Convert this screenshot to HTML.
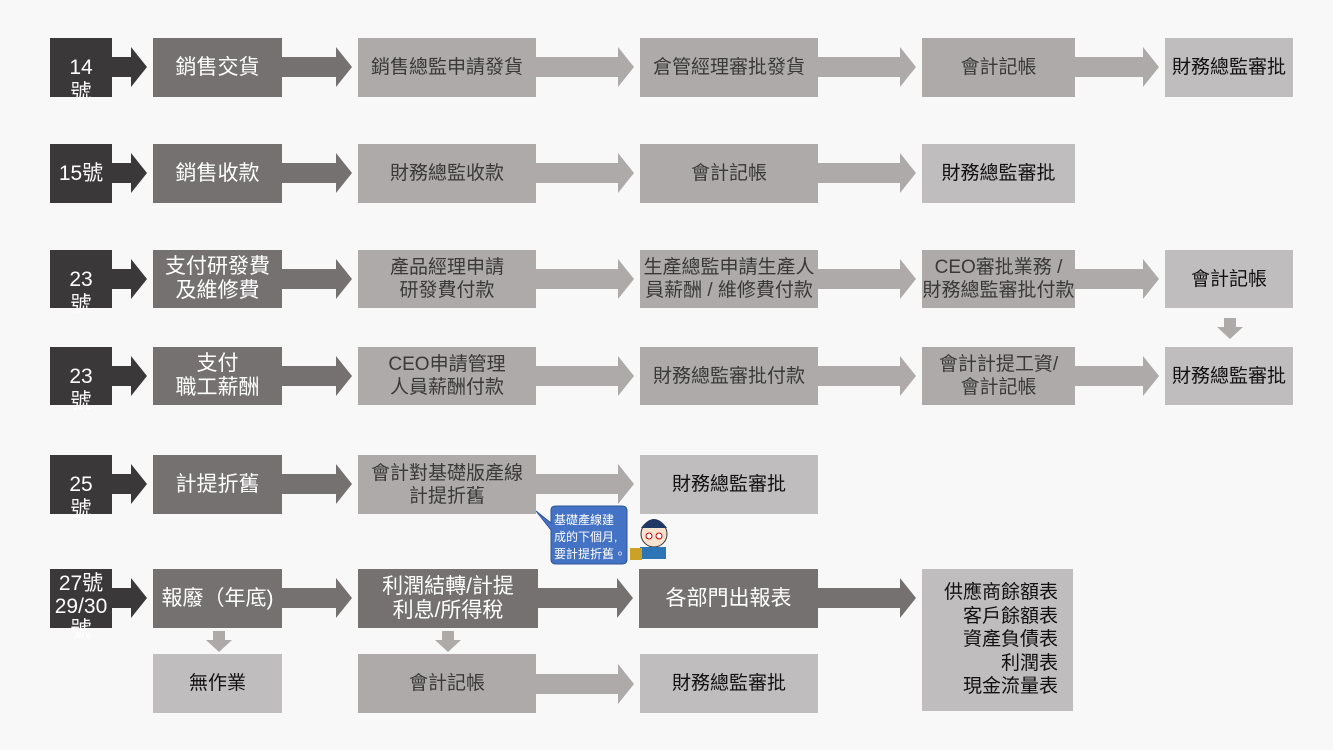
<!DOCTYPE html>
<html><head><meta charset="utf-8"><style>
body{margin:0;width:1333px;height:750px;background:#f8f8f8;position:relative;overflow:hidden;font-family:"Liberation Sans","Noto Sans CJK TC",sans-serif}
.b{position:absolute;display:flex;align-items:center;justify-content:center;text-align:center;font-size:19px;line-height:23px;box-sizing:border-box}
.d{background:#3a3838;color:#fff;font-size:21px;line-height:25px;align-items:flex-start;padding-top:17px;overflow:visible}
.m{background:#767171;color:#fff;font-size:21px}
.l{background:#aeaaaa;color:#3a3838}
.k{background:#bfbdbd;color:#111}
svg{position:absolute;left:0;top:0}
</style></head><body>
<svg width="1333" height="750">
<g fill="#3a3838">
<polygon points="112,57 131,57 131,47 147,67 131,87 131,77 112,77"/>
<polygon points="112,163 131,163 131,153 147,173 131,193 131,183 112,183"/>
<polygon points="112,269 131,269 131,259 147,279 131,299 131,289 112,289"/>
<polygon points="112,366 131,366 131,356 147,376 131,396 131,386 112,386"/>
<polygon points="112,474 131,474 131,464 147,484 131,504 131,494 112,494"/>
<polygon points="112,588 131,588 131,578 147,598 131,618 131,608 112,608"/>
</g>
<g fill="#767171">
<polygon points="282,57 336,57 336,47 352,67 336,87 336,77 282,77"/>
<polygon points="282,163 336,163 336,153 352,173 336,193 336,183 282,183"/>
<polygon points="282,269 336,269 336,259 352,279 336,299 336,289 282,289"/>
<polygon points="282,366 336,366 336,356 352,376 336,396 336,386 282,386"/>
<polygon points="282,474 336,474 336,464 352,484 336,504 336,494 282,494"/>
<polygon points="282,588 336,588 336,578 352,598 336,618 336,608 282,608"/>
<polygon points="538,588 617,588 617,578 633,598 617,618 617,608 538,608"/>
<polygon points="818,588 900,588 900,578 916,598 900,618 900,608 818,608"/>
</g>
<g fill="#aeaaaa">
<polygon points="536,57 618,57 618,47 634,67 618,87 618,77 536,77"/>
<polygon points="818,57 900,57 900,47 916,67 900,87 900,77 818,77"/>
<polygon points="1075,57 1143,57 1143,47 1159,67 1143,87 1143,77 1075,77"/>
<polygon points="536,163 618,163 618,153 634,173 618,193 618,183 536,183"/>
<polygon points="818,163 900,163 900,153 916,173 900,193 900,183 818,183"/>
<polygon points="536,269 618,269 618,259 634,279 618,299 618,289 536,289"/>
<polygon points="818,269 900,269 900,259 916,279 900,299 900,289 818,289"/>
<polygon points="1075,269 1143,269 1143,259 1159,279 1143,299 1143,289 1075,289"/>
<polygon points="536,366 618,366 618,356 634,376 618,396 618,386 536,386"/>
<polygon points="818,366 900,366 900,356 916,376 900,396 900,386 818,386"/>
<polygon points="1075,366 1143,366 1143,356 1159,376 1143,396 1143,386 1075,386"/>
<polygon points="536,474 618,474 618,464 634,484 618,504 618,494 536,494"/>
<polygon points="536,674 618,674 618,664 634,684 618,704 618,694 536,694"/>
<polygon points="213,631 225,631 225,640 232,640 219,652 206,640 213,640"/>
<polygon points="442,631 454,631 454,640 461,640 448,652 435,640 442,640"/>
<polygon points="1224,318 1236,318 1236,327 1243,327 1230,339 1217,327 1224,327"/>
</g>
<path d="M536,511 L551,523 L551,510 Q551,506 556,506 L622,506 Q627,506 627,511 L627,559 Q627,564 622,564 L556,564 Q551,564 551,559 L551,530 Z" fill="#4472c4" stroke="#2f5597"/>
<text x="554" y="524" font-size="12" fill="#fff" font-family="Liberation Sans,Noto Sans CJK TC,sans-serif">基礎產線建</text>
<text x="554" y="541" font-size="12" fill="#fff" font-family="Liberation Sans,Noto Sans CJK TC,sans-serif">成的下個月,</text>
<text x="554" y="558" font-size="12" fill="#fff" font-family="Liberation Sans,Noto Sans CJK TC,sans-serif">要計提折舊。</text>
<circle cx="654" cy="534" r="13" fill="#fbe3cf" stroke="#333"/>
<path d="M641,528 Q654,510 667,528 Z" fill="#1f3864"/>
<circle cx="649" cy="536" r="3" fill="#fff" stroke="#c00"/><circle cx="659" cy="536" r="3" fill="#fff" stroke="#c00"/>
<rect x="640" y="547" width="26" height="12" fill="#2e75b6"/>
<rect x="630" y="548" width="12" height="12" fill="#c9a227"/>
</svg>

<div class="b d" style="left:50px;top:38px;width:62px;height:59px">14<br>號</div>
<div class="b m" style="left:153px;top:38px;width:129px;height:59px">銷售交貨</div>
<div class="b l" style="left:358px;top:38px;width:178px;height:59px">銷售總監申請發貨</div>
<div class="b l" style="left:640px;top:38px;width:178px;height:59px">倉管經理審批發貨</div>
<div class="b l" style="left:922px;top:38px;width:153px;height:59px">會計記帳</div>
<div class="b k" style="left:1165px;top:38px;width:128px;height:59px">財務總監審批</div>

<div class="b d" style="left:50px;top:144px;width:62px;height:59px;align-items:center;padding-top:0">15號</div>
<div class="b m" style="left:153px;top:144px;width:129px;height:59px">銷售收款</div>
<div class="b l" style="left:358px;top:144px;width:178px;height:59px">財務總監收款</div>
<div class="b l" style="left:640px;top:144px;width:178px;height:59px">會計記帳</div>
<div class="b k" style="left:922px;top:144px;width:153px;height:59px">財務總監審批</div>

<div class="b d" style="left:50px;top:250px;width:62px;height:58px">23<br>號</div>
<div class="b m" style="left:153px;top:250px;width:129px;height:58px;line-height:24px">支付研發費<br>及維修費</div>
<div class="b l" style="left:358px;top:250px;width:178px;height:58px">產品經理申請<br>研發費付款</div>
<div class="b l" style="left:640px;top:250px;width:178px;height:58px">生產總監申請生產人<br>員薪酬 / 維修費付款</div>
<div class="b l" style="left:922px;top:250px;width:153px;height:58px">CEO審批業務 /<br>財務總監審批付款</div>
<div class="b k" style="left:1165px;top:250px;width:128px;height:58px">會計記帳</div>

<div class="b d" style="left:50px;top:347px;width:62px;height:58px">23<br>號</div>
<div class="b m" style="left:153px;top:347px;width:129px;height:58px;line-height:24px">支付<br>職工薪酬</div>
<div class="b l" style="left:358px;top:347px;width:178px;height:58px">CEO申請管理<br>人員薪酬付款</div>
<div class="b l" style="left:640px;top:347px;width:178px;height:58px">財務總監審批付款</div>
<div class="b l" style="left:922px;top:347px;width:153px;height:58px">會計計提工資/<br>會計記帳</div>
<div class="b k" style="left:1165px;top:347px;width:128px;height:58px">財務總監審批</div>

<div class="b d" style="left:50px;top:455px;width:62px;height:59px">25<br>號</div>
<div class="b m" style="left:153px;top:455px;width:129px;height:59px">計提折舊</div>
<div class="b l" style="left:358px;top:455px;width:178px;height:59px">會計對基礎版產線<br>計提折舊</div>
<div class="b k" style="left:640px;top:455px;width:178px;height:59px">財務總監審批</div>

<div class="b d" style="left:50px;top:569px;width:62px;height:59px;padding-top:3px;line-height:23px">27號<br>29/30<br>號</div>
<div class="b m" style="left:153px;top:569px;width:129px;height:59px">報廢（年底)</div>
<div class="b m" style="left:358px;top:569px;width:180px;height:59px;line-height:24px">利潤結轉/計提<br>利息/所得稅</div>
<div class="b m" style="left:639px;top:569px;width:179px;height:59px">各部門出報表</div>
<div class="b k" style="left:922px;top:569px;width:151px;height:142px;line-height:23.5px;font-size:19px;justify-content:flex-end;text-align:right;padding-right:15px">供應商餘額表<br>客戶餘額表<br>資產負債表<br>利潤表<br>現金流量表</div>

<div class="b k" style="left:153px;top:654px;width:129px;height:59px">無作業</div>
<div class="b l" style="left:358px;top:654px;width:178px;height:59px">會計記帳</div>
<div class="b k" style="left:640px;top:654px;width:178px;height:59px">財務總監審批</div>
</body></html>
